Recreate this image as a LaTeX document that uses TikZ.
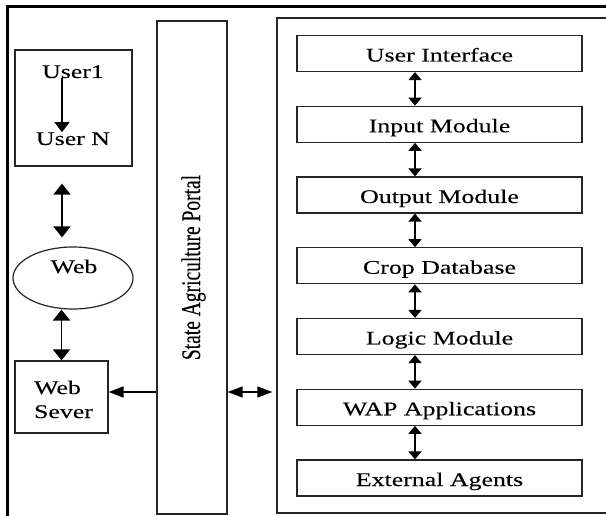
\documentclass[tikz,border=0pt]{standalone}
\usepackage{fontspec}
\setmainfont{Liberation Serif}
\newfontfamily\widefont[FakeStretch=1.34,FakeBold=0.1]{Liberation Serif}
\newfontfamily\portalfont[FakeBold=0.1]{Liberation Serif}
\usetikzlibrary{arrows.meta,shapes.geometric}

\begin{document}
\begin{tikzpicture}[x=1pt,y=-1pt,
  box/.style={draw=black!85,line width=1.2pt,inner sep=0pt},
  lbl/.style={font=\widefont\fontsize{19.3}{22}\selectfont,inner sep=0pt,anchor=base},
  module/.style={box,minimum width=285pt,minimum height=36pt,
    font=\widefont\fontsize{19.3}{22}\selectfont,text height=16pt,text depth=0pt},
  vdarr/.style={line width=1.7pt,{Triangle[length=8pt,width=13pt]}-{Triangle[length=8pt,width=13pt]}},
  wdarr/.style={line width=1.7pt,{Triangle[length=11pt,width=17pt]}-{Triangle[length=11pt,width=17pt]}},
  uarr/.style={line width=1.5pt,-{Triangle[length=10pt,width=15pt]}},
  harr/.style={line width=1.4pt,-{Triangle[length=15pt,width=11pt]}},
  hdarr/.style={line width=1.4pt,{Triangle[length=15pt,width=11pt]}-{Triangle[length=15pt,width=11pt]}}
]
\useasboundingbox (0,0) rectangle (606,516);
\clip (0,0) rectangle (606,516);
\fill[white] (0,0) rectangle (606,516);

% outer frame (top and left edges)
\draw[line width=2.5pt] (7.5,700) -- (7.5,6.5) -- (700,6.5);

% user group
\node[box,minimum width=117pt,minimum height=116pt] (users) at (73.5,108) {};
\node[lbl] (u1) at (73,78) {User1};
\node[lbl] (un) at (73,145) {User N};
\draw[uarr] ([xshift=-11pt]u1.south) -- ([xshift=-11pt]un.north);

% web cloud
\node[draw=black!85,line width=1.2pt,ellipse,minimum width=120pt,minimum height=62pt,inner sep=0pt] (web) at (73,278) {};
\node[lbl] (webt) at (74,273) {Web};
\draw[wdarr] ([xshift=-11.5pt,yshift=-17pt]users.south) -- ([xshift=-11pt,yshift=9pt]web.north);

% web server
\node[box,minimum width=93pt,minimum height=72pt] (server) at (61.5,397) {};
\node[lbl] (srv1) at (57.5,394) {Web};
\node[lbl] (srv2) at (63.5,418) {Sever};
\draw[wdarr] (web.south -| server.north) -- (server.north);

% portal column
\node[box,minimum width=70pt,minimum height=493pt] (portal) at (192,267.5) {};
\node[rotate=90,anchor=base,inner sep=0pt,font=\portalfont\fontsize{19.5}{22}\selectfont] (portalt) at (200,267.5)
  {\scalebox{1}[1.38]{State Agriculture Portal}};

% system box
\node[box,minimum width=423pt,minimum height=495pt] (sys) at (488.5,265.5) {};

\coordinate (mid) at (0,392);
\draw[harr] (portal.west |- mid) -- (server.east |- mid);
\draw[hdarr,shorten >=4pt] (portal.east |- mid) -- (sys.west |- mid);

% modules
\foreach \t [count=\i from 0] in {User Interface,Input Module,Output Module,Crop Database,Logic Module,WAP Applications,External Agents}
  \node[module] (m\i) at (439.5,53.5+70.75*\i) {\t};
\foreach \i/\j in {0/1,1/2,2/3,3/4,4/5,5/6}
  \draw[vdarr] ([xshift=-24.5pt]m\i.south) -- ([xshift=-24.5pt]m\j.north);
\end{tikzpicture}
\end{document}
